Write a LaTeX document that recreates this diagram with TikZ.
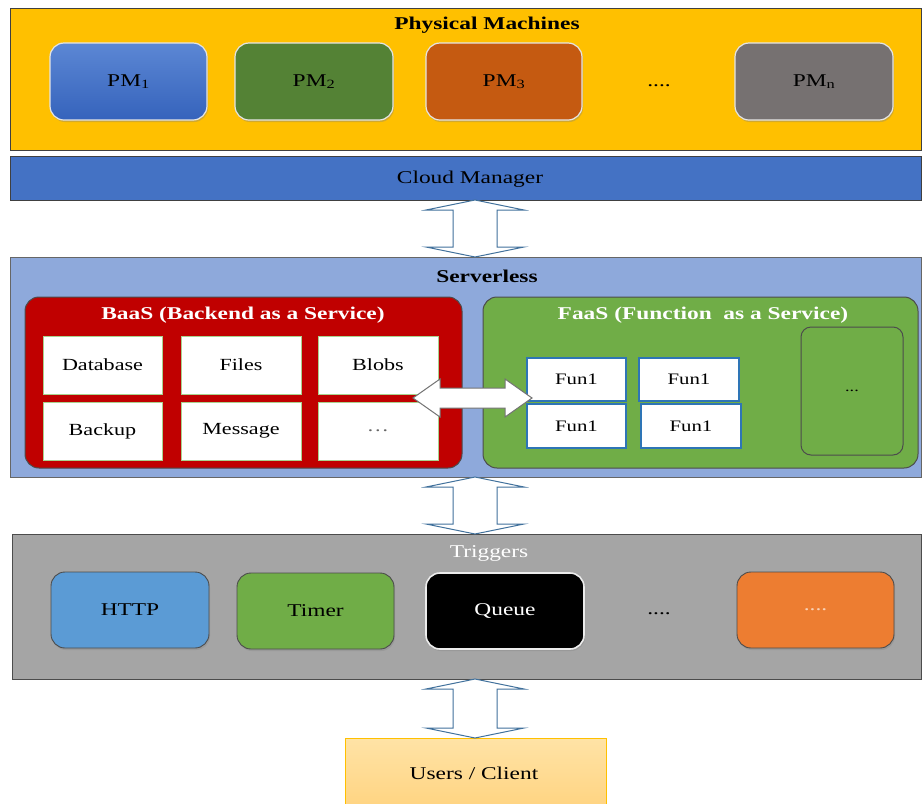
\documentclass[tikz,border=0pt]{standalone}
\usepackage{fontspec}
\setmainfont{Liberation Serif}[FakeStretch=1.3]
\usetikzlibrary{calc,shadows}
\definecolor{pmyellow}{HTML}{FFC000}
\definecolor{pmblueT}{HTML}{5C87D4}
\definecolor{pmblueB}{HTML}{3563BC}
\definecolor{pmgreen}{HTML}{548235}
\definecolor{pmorange}{HTML}{C55A11}
\definecolor{pmgrey}{HTML}{767171}
\definecolor{cmblue}{HTML}{4472C4}
\definecolor{slblue}{HTML}{8EA9DB}
\definecolor{baasred}{HTML}{C00000}
\definecolor{faasgreen}{HTML}{70AD47}
\definecolor{itemgreen}{HTML}{A9D18E}
\definecolor{funblue}{HTML}{2E75B6}
\definecolor{trgrey}{HTML}{A5A5A5}
\definecolor{httpblue}{HTML}{5B9BD5}
\definecolor{trorange}{HTML}{ED7D31}
\definecolor{userT}{HTML}{FFE3A6}
\definecolor{userB}{HTML}{FFD37F}
\definecolor{arrowblue}{HTML}{41719C}
\newcommand\rbox[7]{\node[#1, minimum width={(#5-#3)*1pt}, minimum height={(#6-#4)*1pt}] (#2) at ({(#3+#5)/2},{-(#4+#6)/2}) {#7};}
\newcommand\vdarrow[3][barrow]{\draw[#1] let \p1=(#2), \p2=(#3) in (\x1,\y1) -- ++(49pt,-10pt) -- ++(-27pt,0pt) -- (\x1+22pt,\y2+10pt) -- ++(27pt,0pt) -- (\x2,\y2) -- ++(-49pt,10pt) -- ++(27pt,0pt) -- (\x1-22pt,\y1-10pt) -- ++(-27pt,0pt) -- cycle;}
\newcommand\hdarrow[3][barrow]{\draw[#1] let \p1=(#2), \p2=(#3) in (\x1,\y1) -- ++(27pt,19pt) -- ++(0pt,-9pt) -- (\x2-27pt,\y2+10pt) -- ++(0pt,9pt) -- (\x2,\y2) -- ++(-27pt,-19pt) -- ++(0pt,9pt) -- (\x1+27pt,\y1-10pt) -- ++(0pt,-9pt) -- cycle;}
\tikzset{
  base/.style={inner sep=0pt, outer sep=0pt, font=\fontsize{18}{20}\selectfont},
  layer/.style={base, draw=black!75, line width=1pt},
  pmbox/.style={base, rounded corners=14pt, draw=white!80!gray, line width=1.2pt,
    drop shadow={opacity=0.35, shadow xshift=1pt, shadow yshift=-2pt}},
  trbox/.style={base, rounded corners=14pt, draw=black!70, line width=0.9pt,
    drop shadow={opacity=0.3, shadow xshift=1pt, shadow yshift=-2pt}},
  svc/.style={base, rounded corners=14pt, draw=black!70, line width=1pt},
  item/.style={base, fill=white, draw=itemgreen, line width=1pt, font=\fontsize{17}{19}\selectfont},
  fun/.style={base, fill=white, draw=funblue, line width=1.1pt, font=\fontsize{16}{18}\selectfont},
  ttl/.style={base, font=\fontsize{18}{20}\selectfont\bfseries},
  barrow/.style={fill=white, draw=arrowblue, line width=1pt, line join=miter},
  hbarrow/.style={fill=white, draw=black!55, line width=1pt, line join=miter},
}
\begin{document}
\begin{tikzpicture}[x=1pt,y=1pt]
\clip (0,0) rectangle (922,-804);
\fill[white] (0,0) rectangle (922,-804);
% Physical machines
\rbox{layer, fill=pmyellow}{pm}{10}{8}{921}{150}{}
\node[ttl] (pmt) at (487,-25) {Physical Machines};
\rbox{pmbox, top color=pmblueT, bottom color=pmblueB}{pm1}{50}{43}{207}{120}{PM\textsubscript{1}}
\rbox{pmbox, fill=pmgreen}{pm2}{235}{43}{393}{120}{PM\textsubscript{2}}
\rbox{pmbox, fill=pmorange}{pm3}{426}{43}{582}{120}{PM\textsubscript{3}}
\node[base] (pmdots) at (659,-86) {....};
\rbox{pmbox, fill=pmgrey}{pmn}{735}{43}{893}{120}{PM\textsubscript{n}}
% Cloud manager
\rbox{layer, fill=cmblue}{cm}{10}{156}{921}{200}{}
\node[base] (cmt) at (470,-179) {Cloud Manager};
% Serverless
\rbox{layer, fill=slblue, draw=black!60}{sl}{10}{257}{921}{477}{}
\node[ttl] (slt) at (487,-276) {Serverless};
\rbox{svc, fill=baasred}{baas}{25}{297}{462}{468}{}
\node[ttl, text=white] (baast) at (243,-315) {BaaS (Backend as a Service)};
\rbox{item}{db}{43}{336}{162}{394}{Database}
\rbox{item}{files}{181}{336}{301}{394}{Files}
\rbox{item}{blobs}{318}{336}{438}{394}{Blobs}
\rbox{item}{backup}{43}{402}{162}{460}{Backup}
\rbox{item}{msg}{181}{402}{301}{460}{Message}
\rbox{item}{bdots}{318}{402}{438}{460}{\textcolor{black!60}{\dots}}
\rbox{svc, fill=faasgreen}{faas}{483}{297}{918}{468}{}
\node[ttl, text=white] (faast) at (703,-315) {FaaS (Function\ \ as a Service)};
\rbox{fun}{f1}{527}{358}{626}{401}{Fun1}
\rbox{fun}{f2}{639}{358}{739}{401}{Fun1}
\rbox{fun}{f3}{527}{404}{626}{448}{Fun1}
\rbox{fun}{f4}{641}{404}{741}{448}{Fun1}
\rbox{svc, rounded corners=10pt, fill=faasgreen}{fdots}{801}{327}{903}{455}{\fontsize{14}{16}\selectfont...}
% horizontal double arrow
\coordinate (hl) at (413,-398);
\coordinate (hr) at (532,-398);
\hdarrow[hbarrow]{hl}{hr}
% Triggers
\rbox{layer, fill=trgrey, draw=black!70}{tr}{12}{534}{921}{679}{}
\node[base, text=white] (trt) at (489,-553) {Triggers};
\rbox{trbox, fill=httpblue}{http}{51}{572}{209}{648}{HTTP}
\rbox{trbox, fill=faasgreen}{timer}{237}{573}{394}{649}{Timer}
\rbox{trbox, fill=black, draw=white!85!gray, line width=1.6pt, text=white}{queue}{426}{573}{584}{649}{Queue}
\node[base] (trdots) at (659,-614) {....};
\rbox{trbox, fill=trorange, text=white!65!trorange}{tro}{737}{572}{894}{648}{....}
% Users
\rbox{base, top color=userT, bottom color=userB, draw=pmyellow, line width=1pt}{users}{345}{738}{606}{812}{}
\node[base] (userst) at (474,-773) {Users / Client};
% vertical double arrows
\coordinate (ax) at (475,0);
\vdarrow{cm.south -| ax}{sl.north -| ax}
\vdarrow{sl.south -| ax}{tr.north -| ax}
\vdarrow{tr.south -| ax}{users.north -| ax}
\end{tikzpicture}
\end{document}
